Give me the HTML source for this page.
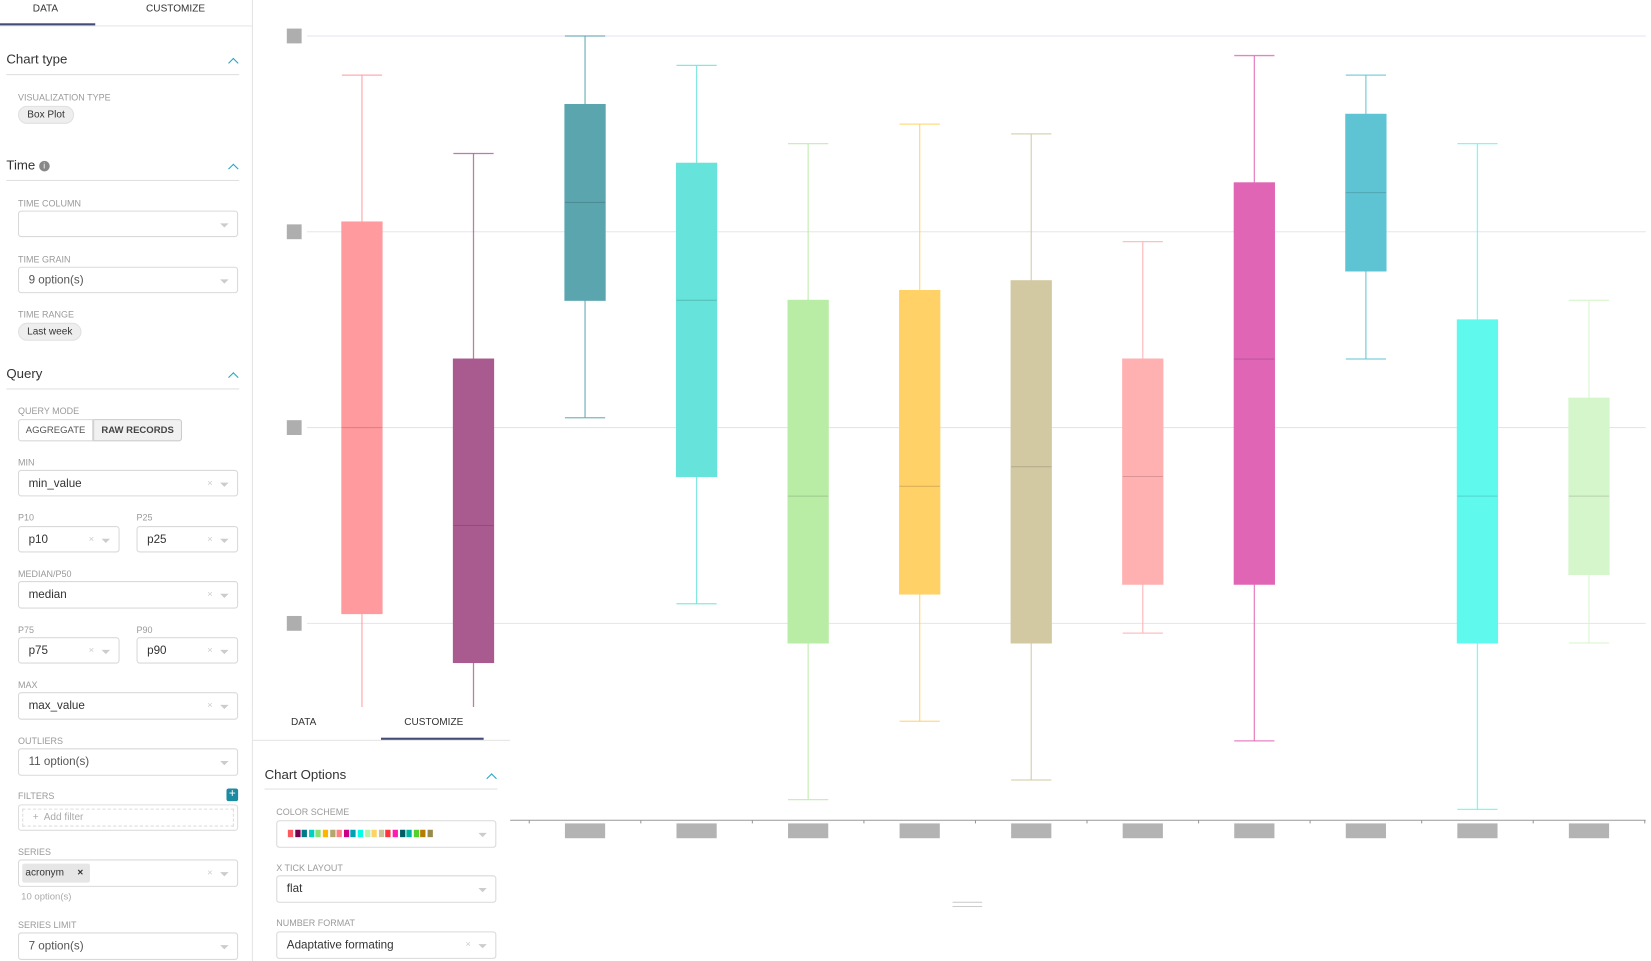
<!DOCTYPE html>
<html><head><meta charset="utf-8">
<style>
html,body{margin:0;padding:0;background:#fff;overflow:hidden;width:1651px;height:961px;}
#wrap{position:absolute;left:0;top:0;width:1560px;height:908px;transform:scale(1.05833,1.05837);transform-origin:0 0;font-family:"Liberation Sans",sans-serif;color:#333;}
.abs{position:absolute;}
.tab{position:absolute;font-size:9.5px;color:#333;text-transform:uppercase;}
.sec{position:absolute;font-size:12.5px;color:#333;}
.chev{position:absolute;width:6px;height:6px;border-left:1.5px solid #20a7c9;border-top:1.5px solid #20a7c9;transform:rotate(45deg);}
.hr{position:absolute;height:1px;background:#e0e0e0;}
.lbl{position:absolute;font-size:8.5px;color:#9a9a9a;text-transform:uppercase;}
.sel{position:absolute;border:1px solid #d9d9d9;border-radius:3px;background:#fff;font-size:11px;color:#333;box-sizing:border-box;}
.sel .t{position:absolute;left:9px;top:6px;}
.sel .arr{position:absolute;right:8px;top:11px;width:0;height:0;border-left:4px solid transparent;border-right:4px solid transparent;border-top:4px solid #ccc;}
.sel .x{position:absolute;right:23px;top:6px;color:#ccc;font-size:9px;}
.pill{position:absolute;background:#eee;border:1px solid #e0e0e0;border-radius:9px;font-size:9.5px;color:#333;text-align:center;line-height:15px;}
</style></head><body>
<div id="wrap">

<svg id="chart" class="abs" style="left:0;top:0" width="1560" height="908"></svg>

<!-- left panel -->
<div class="abs" style="left:0;top:0;width:238px;height:908px;border-right:1px solid #e3e3e3;background:#fff;">
  <div class="tab" style="left:31px;top:3px">Data</div>
  <div class="tab" style="left:138px;top:3px">Customize</div>
  <div class="abs" style="left:0;top:24px;width:238px;height:1px;background:#e5e5e5"></div>
  <div class="abs" style="left:0;top:22px;width:90px;height:2px;background:#444b78"></div>

  <div class="sec" style="left:6px;top:49px">Chart type</div>
  <div class="chev" style="left:217px;top:56px"></div>
  <div class="hr" style="left:6px;top:70px;width:220px"></div>
  <div class="lbl" style="left:17px;top:87px">Visualization type</div>
  <div class="pill" style="left:17px;top:100px;width:51px;height:15px">Box Plot</div>

  <div class="sec" style="left:6px;top:149px">Time <span style="display:inline-block;width:10px;height:10px;border-radius:50%;background:#888;color:#fff;font-size:8px;line-height:10px;text-align:center;vertical-align:1px">i</span></div>
  <div class="chev" style="left:217px;top:156px"></div>
  <div class="hr" style="left:6px;top:170px;width:220px"></div>
  <div class="lbl" style="left:17px;top:187px">Time column</div>
  <div class="sel" style="left:17px;top:199px;width:208px;height:25px"><div class="arr"></div></div>
  <div class="lbl" style="left:17px;top:240px">Time grain</div>
  <div class="sel" style="left:17px;top:252px;width:208px;height:25px"><span class="t" style="color:#555">9 option(s)</span><div class="arr"></div></div>
  <div class="lbl" style="left:17px;top:292px">Time range</div>
  <div class="pill" style="left:17px;top:305px;width:58px;height:15px">Last week</div>

  <div class="sec" style="left:6px;top:346px">Query</div>
  <div class="chev" style="left:217px;top:353px"></div>
  <div class="hr" style="left:6px;top:367px;width:220px"></div>
  <div class="lbl" style="left:17px;top:383px">Query mode</div>
  <div class="abs" style="left:17px;top:396px;width:71px;height:21px;border:1px solid #d9d9d9;border-radius:3px 0 0 3px;box-sizing:border-box;font-size:9px;line-height:19px;text-align:center;color:#555">AGGREGATE</div>
  <div class="abs" style="left:88px;top:396px;width:84px;height:21px;border:1px solid #ccc;border-radius:0 3px 3px 0;box-sizing:border-box;font-size:9px;line-height:19px;text-align:center;background:#f1f1f1;font-weight:bold;color:#444">RAW RECORDS</div>

  <div class="lbl" style="left:17px;top:432px">Min</div>
  <div class="sel" style="left:17px;top:444px;width:208px;height:25px"><span class="t">min_value</span><span class="x">×</span><div class="arr"></div></div>
  <div class="lbl" style="left:17px;top:484px">P10</div>
  <div class="lbl" style="left:129px;top:484px">P25</div>
  <div class="sel" style="left:17px;top:497px;width:96px;height:25px"><span class="t">p10</span><span class="x">×</span><div class="arr"></div></div>
  <div class="sel" style="left:129px;top:497px;width:96px;height:25px"><span class="t">p25</span><span class="x">×</span><div class="arr"></div></div>
  <div class="lbl" style="left:17px;top:537px">Median/P50</div>
  <div class="sel" style="left:17px;top:549px;width:208px;height:26px"><span class="t">median</span><span class="x">×</span><div class="arr"></div></div>
  <div class="lbl" style="left:17px;top:590px">P75</div>
  <div class="lbl" style="left:129px;top:590px">P90</div>
  <div class="sel" style="left:17px;top:602px;width:96px;height:25px"><span class="t">p75</span><span class="x">×</span><div class="arr"></div></div>
  <div class="sel" style="left:129px;top:602px;width:96px;height:25px"><span class="t">p90</span><span class="x">×</span><div class="arr"></div></div>
  <div class="lbl" style="left:17px;top:642px">Max</div>
  <div class="sel" style="left:17px;top:654px;width:208px;height:26px"><span class="t">max_value</span><span class="x">×</span><div class="arr"></div></div>
  <div class="lbl" style="left:17px;top:695px">Outliers</div>
  <div class="sel" style="left:17px;top:707px;width:208px;height:26px"><span class="t" style="color:#555">11 option(s)</span><div class="arr"></div></div>
  <div class="lbl" style="left:17px;top:747px">Filters</div>
  <div class="abs" style="left:214px;top:745px;width:11px;height:12px;background:#1c8aa0;border-radius:2px;color:#fff;font-size:11px;line-height:11px;text-align:center">+</div>
  <div class="abs" style="left:17px;top:760px;width:208px;height:25px;border:1px solid #ddd;border-radius:3px;box-sizing:border-box">
    <div class="abs" style="left:3px;top:3px;right:3px;bottom:3px;border:1px dashed #ddd;font-size:9.5px;color:#aaa;line-height:16px;padding-left:9px">+&nbsp; Add filter</div>
  </div>
  <div class="lbl" style="left:17px;top:800px">Series</div>
  <div class="sel" style="left:17px;top:812px;width:208px;height:26px">
    <div class="abs" style="left:3px;top:3px;width:64px;height:18px;background:#e6e6e6;border-radius:2px;font-size:9.5px;line-height:18px;padding-left:3px;box-sizing:border-box">acronym <b style="margin-left:10px">×</b></div>
    <span class="x">×</span><div class="arr"></div></div>
  <div class="abs" style="left:20px;top:842px;font-size:9px;color:#aaa">10 option(s)</div>
  <div class="lbl" style="left:17px;top:869px">Series limit</div>
  <div class="sel" style="left:17px;top:881px;width:208px;height:26px"><span class="t" style="color:#555">7 option(s)</span><div class="arr"></div></div>
</div>

<!-- overlay customize panel -->
<div class="abs" style="left:239px;top:668px;width:243px;height:240px;background:#fff;">
  <div class="tab" style="left:36px;top:9px">Data</div>
  <div class="tab" style="left:143px;top:9px">Customize</div>
  <div class="abs" style="left:0;top:31px;width:243px;height:1px;background:#e5e5e5"></div>
  <div class="abs" style="left:121px;top:29px;width:97px;height:2px;background:#444b78"></div>
  <div class="sec" style="left:11px;top:57px">Chart Options</div>
  <div class="chev" style="left:222px;top:64px"></div>
  <div class="hr" style="left:11px;top:77px;width:220px"></div>
  <div class="lbl" style="left:22px;top:94px">Color scheme</div>
  <div class="sel" style="left:22px;top:107px;width:208px;height:26px">
    <div id="swatches" class="abs" style="left:10px;top:8px;height:7px"></div><div class="arr"></div></div>
  <div class="lbl" style="left:22px;top:147px">X tick layout</div>
  <div class="sel" style="left:22px;top:159px;width:208px;height:26px"><span class="t">flat</span><div class="arr"></div></div>
  <div class="lbl" style="left:22px;top:199px">Number format</div>
  <div class="sel" style="left:22px;top:212px;width:208px;height:26px"><span class="t">Adaptative formating</span><span class="x">×</span><div class="arr"></div></div>
</div>
<div class="abs" style="left:900px;top:852px;width:28px;height:3px;border-top:1px solid #ccc;border-bottom:1px solid #ccc"></div>

</div>
<script>
const categories = ["c1","c2","c3","c4","c5","c6","c7","c8","c9","c10","c11","c12"];
const whiskerHigh = [280,240,300,285,245,255,250,195,290,280,245,165];
const q3Values    = [205,135,265,235,165,170,175,135,225,260,155,115];
const medians     = [100,50,215,165,65,70,80,75,135,220,65,65];
const q1Values    = [5,-20,165,75,-10,15,-10,20,20,180,-10,25];
const whiskerLow  = [-95,-80,105,10,-90,-50,-80,-5,-60,135,-95,-10];
const yTicks = [0,100,200,300];
const boxColors = ["#ff9a9e","#a95b8f","#5aa5ae","#66e3da","#b9eca5","#ffd166","#d2c8a2","#ffb0b0","#e066b5","#5ec4d3","#5ff9ee","#d5f5cb"];
const schemeColors = ["#ff5a5f","#7b0051","#007a87","#00d1c1","#8ce071","#ffb400","#b4a76c","#ff8083","#cc0086","#00a1b3","#00ffeb","#bbedab","#ffd266","#cbc29a","#ff3339","#ff1ab1","#005c66","#00b3a5","#55d12e","#b37e00","#988b4e"];

const NS="http://www.w3.org/2000/svg";
const svg=document.getElementById('chart');
const y=v=>589-v*1.85;
const x=i=>342+i*105.4;
const boxW=38;
function mk(tag,attrs){const e=document.createElementNS(NS,tag);for(const k in attrs)e.setAttribute(k,attrs[k]);svg.appendChild(e);return e;}

yTicks.forEach((t,i)=>{
  const g=mk('line',{x1:290,x2:1555,y1:y(t),y2:y(t),stroke:'#e6e3f0','stroke-width':1});
  
  
  const l=mk('rect',{x:271,y:y(t)-7,width:14,height:14,fill:'#aeaeae'});
  
  
});
const ax=mk('line',{x1:482,x2:1555,y1:775,y2:775,stroke:'#999','stroke-width':1});


for(let i=0;i<=categories.length;i++){
  const tk=mk('line',{x1:x(i)-52.7,x2:x(i)-52.7,y1:775,y2:778,stroke:'#999'});
  
  
}
categories.forEach((c,i)=>{
  const cx=x(i), col=boxColors[i];
  const w=mk('line',{x1:cx,x2:cx,y1:y(whiskerHigh[i]),y2:y(whiskerLow[i]),stroke:col,'stroke-width':1.2,opacity:0.8});
  
  
  [whiskerHigh[i],whiskerLow[i]].forEach(v=>{
    const cap=mk('line',{x1:cx-boxW/2,x2:cx+boxW/2,y1:y(v),y2:y(v),stroke:col,'stroke-width':1.2,opacity:0.8});
    
    
  });
  const b=mk('rect',{x:cx-boxW/2,y:y(q3Values[i]),width:boxW,height:y(q1Values[i])-y(q3Values[i]),fill:col,stroke:col});
  
  
  const m=mk('line',{x1:cx-boxW/2,x2:cx+boxW/2,y1:y(medians[i]),y2:y(medians[i]),stroke:'rgba(0,0,0,0.15)','stroke-width':1});
  
  
  const lb=mk('rect',{x:cx-19,y:778,width:38,height:14,fill:'#b3b3b3'});
  
  
});

const sw=document.getElementById('swatches');
schemeColors.forEach((c,i)=>{
  const d=document.createElement('div');
  
  
  d.style.cssText='position:absolute;top:0;width:5px;height:7px;left:'+(i*6.6)+'px;background:'+c;
  sw.appendChild(d);
});
</script>
</body></html>
